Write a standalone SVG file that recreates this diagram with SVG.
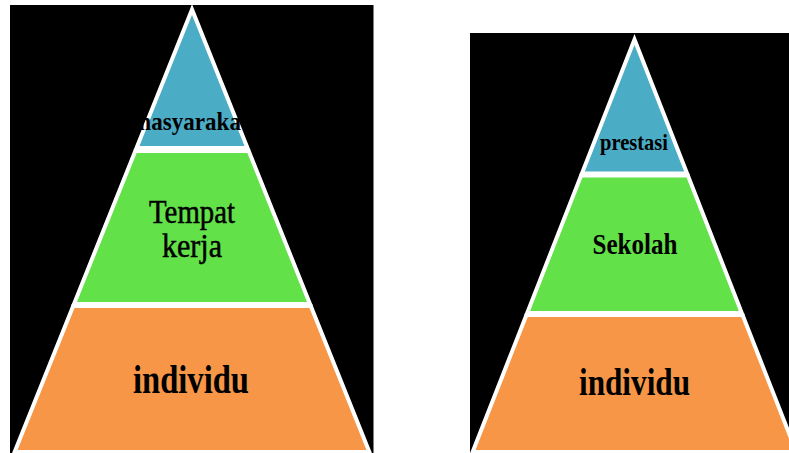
<svg xmlns="http://www.w3.org/2000/svg" width="789" height="453" viewBox="0 0 789 453">
  <style>
    .panel { fill: #000000; }
    .layer { stroke: #ffffff; stroke-width: 4; stroke-linejoin: miter; stroke-miterlimit: 10; }
    .blue { fill: #4BACC6; }
    .green { fill: #62E149; }
    .orange { fill: #F79646; }
    .lbl { font-family: "Liberation Serif", "Times New Roman", serif; fill: #000000; }
    .b { font-weight: bold; }
  </style>
  <defs>
    <clipPath id="clipMas">
      <rect x="137" y="90" width="120" height="60"/>
    </clipPath>
  </defs>
  <rect x="0" y="0" width="789" height="453" fill="#ffffff"/>

  <g id="left-pyramid">
    <rect class="panel" x="10" y="5" width="363.5" height="448"/>
    <g id="left-top">
      <polygon class="layer blue" points="192,9.5 136.5,148 247.5,148"/>
      <g clip-path="url(#clipMas)">
        <text class="lbl b" x="132" y="129.5" font-size="25" textLength="109" lengthAdjust="spacingAndGlyphs">masyaraka</text>
      </g>
    </g>
    <g id="left-middle">
      <polygon class="layer green" points="135.3,151 248.7,151 310,304 74,304"/>
      <text class="lbl" x="149" y="223" font-size="33" stroke="#000" stroke-width="0.5" textLength="86" lengthAdjust="spacingAndGlyphs">Tempat</text>
      <text class="lbl" x="162" y="257" font-size="33" stroke="#000" stroke-width="0.5" textLength="60" lengthAdjust="spacingAndGlyphs">kerja</text>
    </g>
    <g id="left-bottom">
      <polygon class="layer orange" points="73.2,306 310.8,306 369.4,452 14.6,452"/>
      <text class="lbl b" x="133" y="393" font-size="39" textLength="116" lengthAdjust="spacingAndGlyphs">individu</text>
    </g>
  </g>

  <g id="right-pyramid">
    <rect class="panel" x="470" y="33" width="319" height="420"/>
    <g id="right-top">
      <polygon class="layer blue" points="634.5,39.5 581.9,173.5 687.1,173.5"/>
      <text class="lbl b" x="600" y="150" font-size="24" textLength="68" lengthAdjust="spacingAndGlyphs">prestasi</text>
    </g>
    <g id="right-middle">
      <polygon class="layer green" points="581.1,175.5 687.9,175.5 741.8,313 527.2,313"/>
      <text class="lbl b" x="592.5" y="254" font-size="29" textLength="85" lengthAdjust="spacingAndGlyphs">Sekolah</text>
    </g>
    <g id="right-bottom">
      <polygon class="layer orange" points="526.4,315 742.6,315 796.4,452 472.6,452"/>
      <text class="lbl b" x="579" y="395" font-size="38" textLength="111" lengthAdjust="spacingAndGlyphs">individu</text>
    </g>
  </g>

  <g id="connectors"></g>
</svg>
